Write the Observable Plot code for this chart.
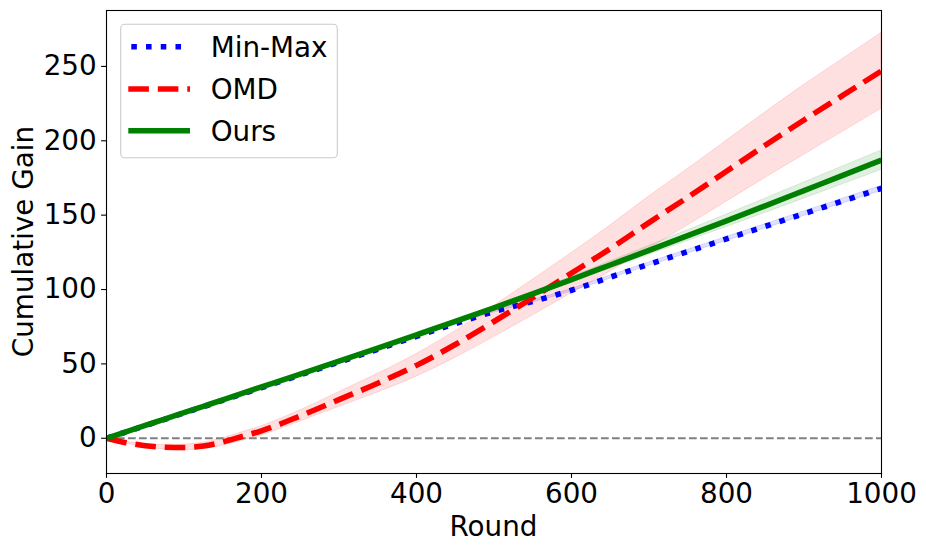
<!DOCTYPE html>
<html><head><meta charset="utf-8">
<script src="https://cdn.jsdelivr.net/npm/d3@7"></script>
<script src="https://cdn.jsdelivr.net/npm/@observablehq/plot@0.6"></script>
<style>
body{margin:0;background:#fff;font-family:"DejaVu Sans",sans-serif;}
#chart{position:relative;width:926px;height:553px;}
</style>
</head><body><div id="chart"></div>
<script>
const rounds = [0,25,50,75,100,125,150,175,200,250,300,350,400,450,500,550,600,650,700,750,800,850,900,950,1000];
const minMax = [0,4.2,8.5,12.7,17,21.2,25.5,29.7,34,42.6,51.2,59.8,68.5,77,85.2,92,99.5,108.3,117,125.5,134,142.5,151,159.5,168];
const minMaxStd = [0,0,0.1,0.1,0.1,0.2,0.2,0.2,0.3,0.3,0.4,0.5,0.5,0.6,0.7,0.8,0.9,1,1.1,1.2,1.3,1.4,1.5,1.6,1.7];
const omd = [0,-3,-5,-6,-6.2,-5.2,-2.5,1.2,5,15,26,37,49,63,78.5,94.5,111,127.5,145,162,179.5,197,214,230.5,247];
const omdStd = [0,0.6,1.1,1.5,1.9,2.2,2.5,2.8,3.1,3.8,5,6.3,7.6,9,10.5,12,13.5,15.5,17.5,19,20.5,22,23.5,24.5,25.5];
const ours = [0,4.3,8.6,12.9,17.2,21.5,25.8,30.2,34.5,43.1,51.8,60.6,69.5,78.5,87.7,97.1,106.7,116.5,126.3,136.2,146.2,156.3,166.5,176.7,187];
const oursStd = [0,0,0,0,0.1,0.1,0.1,0.1,0.2,0.2,0.3,0.4,0.5,0.7,1,1.4,1.8,2.4,3,3.6,4.2,4.8,5.4,6,6.5];

const seriesNames = ["Min-Max","OMD","Ours"];
const seriesColors = ["blue","red","green"];
const seriesDash = ["5.56,9.17","20.6,8.9",null];
const xTicks = [0,200,400,600,800,1000];
const yTicks = [0,50,100,150,200,250];
const xLabel = "Round";
const yLabel = "Cumulative Gain";

const seriesValues = [minMax, omd, ours];
const seriesStd = [minMaxStd, omdStd, oursStd];
const tables = seriesValues.map((vals, s) => rounds.map((r, i) => ({
  round: r, value: vals[i], lo: vals[i] - seriesStd[s][i], hi: vals[i] + seriesStd[s][i]
})));

const FS = 27.8;
const marks = [];
tables.forEach((t, s) => {
  marks.push(Plot.areaY(t, {x: "round", y1: "lo", y2: "hi", fill: seriesColors[s], fillOpacity: 0.12,
    stroke: seriesColors[s], strokeOpacity: 0.12, strokeWidth: 1, curve: "monotone-x", clip: true}));
});
marks.push(Plot.ruleY([0], {stroke: "gray", strokeWidth: 2.08, strokeDasharray: "7.7,3.3"}));
tables.forEach((t, s) => {
  marks.push(Plot.lineY(t, {x: "round", y: "value", stroke: seriesColors[s], strokeWidth: 5.56,
    strokeDasharray: seriesDash[s] || undefined, strokeLinecap: "butt", strokeLinejoin: "round",
    curve: "monotone-x", clip: true}));
});
marks.push(Plot.frame({stroke: "black", strokeWidth: 1.1}));
marks.push(Plot.axisX({ticks: xTicks, tickSize: 4.9, tickPadding: 4.9, strokeWidth: 1.1, fontSize: FS, label: null, tickFormat: d => String(d)}));
marks.push(Plot.axisY({ticks: yTicks, tickSize: 4.9, tickPadding: 4.9, strokeWidth: 1.1, fontSize: FS, label: null, tickFormat: d => String(d)}));

const plot = Plot.plot({
  width: 926, height: 553,
  marginLeft: 106, marginRight: 45, marginTop: 10, marginBottom: 80,
  style: {fontFamily: "DejaVu Sans", fontSize: FS + "px", background: "white", color: "black"},
  x: {domain: [0, 1000]},
  y: {domain: [-23.7, 287.6]},
  marks
});
document.getElementById("chart").appendChild(plot);

const svg = d3.select(plot);
svg.append("text").text(xLabel)
  .attr("x", 493.5).attr("y", 536).attr("text-anchor", "middle")
  .attr("font-size", FS).attr("font-family", "DejaVu Sans").attr("fill", "black");
svg.append("text").text(yLabel)
  .attr("transform", "translate(32.5,241.5) rotate(-90)").attr("text-anchor", "middle")
  .attr("font-size", FS).attr("font-family", "DejaVu Sans").attr("fill", "black");

// legend
const lg = svg.append("g").attr("text-anchor", "start");
lg.append("rect").attr("x", 120.7).attr("y", 24.3).attr("width", 216.6).attr("height", 133.4)
  .attr("rx", 4).attr("fill", "white").attr("fill-opacity", 0.8).attr("stroke", "#cccccc").attr("stroke-width", 1.1);
const rowY = [46.7, 89, 130.7];
seriesNames.forEach((name, s) => {
  const l = lg.append("line").attr("x1", 128.3).attr("x2", 190).attr("y1", rowY[s]).attr("y2", rowY[s])
    .attr("stroke", seriesColors[s]).attr("stroke-width", 5.56).attr("stroke-linecap", "butt");
  if (seriesDash[s]) l.attr("stroke-dasharray", seriesDash[s]).attr("stroke-dashoffset", s === 0 ? -3 : 0);
  lg.append("text").text(name).attr("x", 210.7).attr("y", rowY[s] + 10.1).attr("text-anchor", "start")
    .attr("font-size", FS).attr("font-family", "DejaVu Sans").attr("fill", "black");
});
</script>
</body></html>
